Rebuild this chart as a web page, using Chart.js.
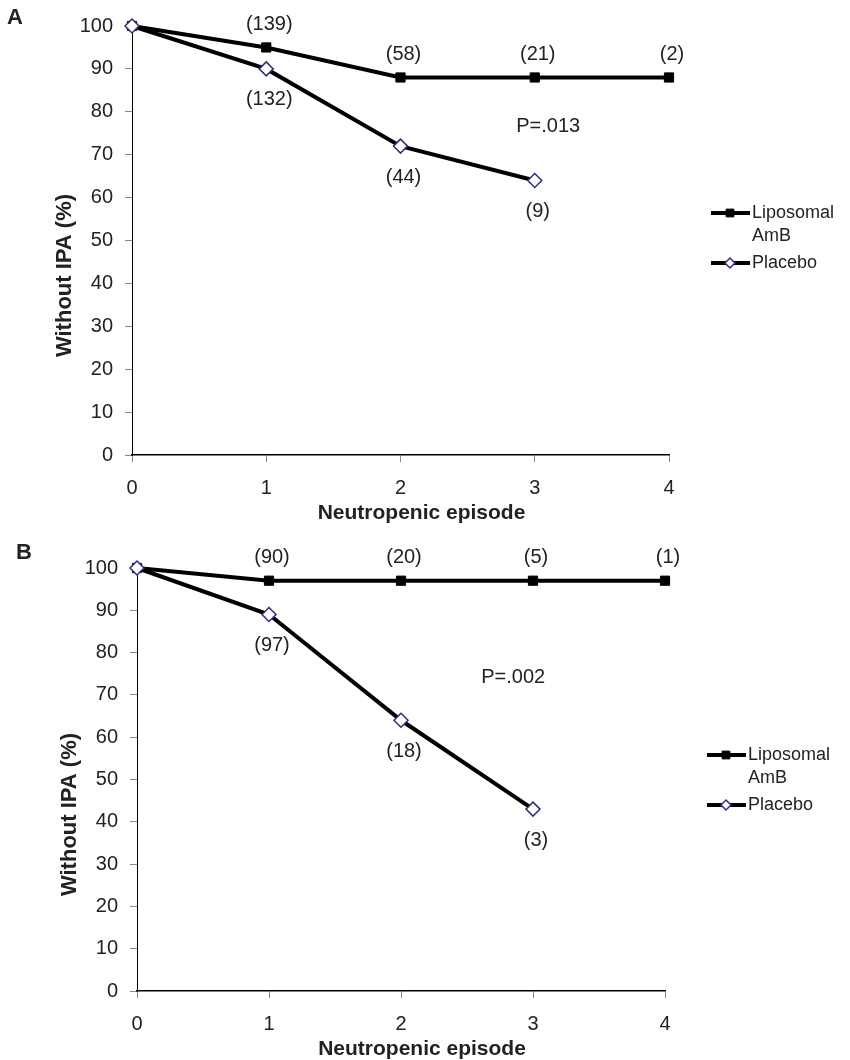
<!DOCTYPE html>
<html>
<head>
<meta charset="utf-8">
<title>Without IPA by neutropenic episode</title>
<script src="https://cdn.jsdelivr.net/npm/chart.js@4.4.1/dist/chart.umd.min.js"></script>
<style>
  body { margin: 0; background: #fff; }
  canvas { position: absolute; left: 0; }
</style>
</head>
<body>
<canvas id="chartA" width="850" height="530" style="top:0"></canvas>
<canvas id="chartB" width="850" height="530" style="top:530px"></canvas>
<script>
// x values (neutropenic episode)
const episodes = [0, 1, 2, 3, 4];

// panel A
const lipoA = [100, 95, 88, 88, 88];
const placeboA = [100, 90, 72, 64];
const lipoCountsA = [null, 139, 58, 21, 2];
const placeboCountsA = [null, 132, 44, 9];
const pTextA = 'P=.013';

// panel B
const lipoB = [100, 97, 97, 97, 97];
const placeboB = [100, 89, 64, 43];
const lipoCountsB = [null, 90, 20, 5, 1];
const placeboCountsB = [null, 97, 18, 3];
const pTextB = 'P=.002';

const FONT = '"Liberation Sans", Arial, sans-serif';
const TXT = '#222';

function points(ys) {
    return ys.map((y, i) => ({ x: episodes[i], y: y }));
}

// labels, p value, axis titles, panel letter and legend
const annotate = {
    id: 'annotate',
    afterDatasetsDraw(chart, args, opts) {
        const ctx = chart.ctx;
        const { left, right, top, bottom } = chart.chartArea;
        const xs = chart.scales.x, ys = chart.scales.y;
        ctx.save();
        ctx.fillStyle = TXT;
        ctx.textAlign = 'center';
        ctx.textBaseline = 'middle';

        // n at risk labels
        ctx.font = '20px ' + FONT;
        chart.data.datasets.forEach((ds, di) => {
            const meta = chart.getDatasetMeta(di);
            ds.counts.forEach((n, i) => {
                if (n == null) return;
                const pt = meta.data[i];
                const dy = ds.countSide === 'above' ? -23 : 31;
                ctx.fillText('(' + n + ')', pt.x + 3, pt.y + dy);
            });
        });

        // p value
        ctx.fillText(opts.pText, xs.getPixelForValue(opts.pAt[0]), ys.getPixelForValue(opts.pAt[1]));

        // axis titles
        ctx.font = 'bold 21px ' + FONT;
        ctx.fillText('Neutropenic episode', (left + right) / 2 + 21, bottom + 58);
        ctx.save();
        ctx.translate(left - 67, (top + bottom) / 2 + 35);
        ctx.rotate(-Math.PI / 2);
        ctx.font = 'bold 22px ' + FONT;
        ctx.fillText('Without IPA (%)', 0, 0);
        ctx.restore();

        // panel letter
        ctx.font = 'bold 22px ' + FONT;
        ctx.fillText(opts.letter, opts.letterAt[0], opts.letterAt[1]);

        // legend
        const lx = right + 42, ly = top + 187;
        const rows = [
            { ds: chart.data.datasets[1], lines: ['Liposomal', 'AmB'], y: ly },
            { ds: chart.data.datasets[0], lines: ['Placebo'], y: ly + 50 }
        ];
        ctx.font = '18px ' + FONT;
        ctx.textAlign = 'left';
        rows.forEach(r => {
            ctx.strokeStyle = r.ds.borderColor;
            ctx.lineWidth = 4;
            ctx.beginPath();
            ctx.moveTo(lx, r.y);
            ctx.lineTo(lx + 39, r.y);
            ctx.stroke();
            ctx.fillStyle = r.ds.pointBackgroundColor;
            ctx.strokeStyle = r.ds.pointBorderColor;
            ctx.lineWidth = r.ds.pointBorderWidth;
            Chart.helpers.drawPoint(ctx, {
                pointStyle: r.ds.pointStyle,
                radius: r.ds.pointStyle === 'rect' ? 5.5 : 5,
                rotation: 0,
                borderWidth: r.ds.pointBorderWidth
            }, lx + 19, r.y);
            ctx.fillStyle = TXT;
            r.lines.forEach((t, k) => ctx.fillText(t, lx + 41, r.y + k * 23));
        });
        ctx.restore();
    }
};

function makeChart(id, lipo, placebo, lipoCounts, placeboCounts, area, extra) {
    return new Chart(document.getElementById(id), {
        type: 'line',
        data: {
            datasets: [{
                label: 'Placebo',
                data: points(placebo),
                counts: placeboCounts,
                countSide: 'below',
                borderColor: '#000',
                borderWidth: 4,
                pointStyle: 'rectRot',
                pointRadius: 7,
                pointBackgroundColor: '#fff',
                pointBorderColor: '#2e2e7e',
                pointBorderWidth: 1.5,
                tension: 0,
                clip: false,
                order: 0
            }, {
                label: 'Liposomal AmB',
                data: points(lipo),
                counts: lipoCounts,
                countSide: 'above',
                borderColor: '#000',
                borderWidth: 4,
                pointStyle: 'rect',
                pointRadius: 6.5,
                pointBackgroundColor: '#000',
                pointBorderColor: '#000',
                pointBorderWidth: 1,
                tension: 0,
                clip: false,
                order: 1
            }]
        },
        options: {
            responsive: false,
            animation: false,
            layout: {
                padding: { top: area.top, right: 850 - area.right, left: 0, bottom: 0 }
            },
            scales: {
                x: {
                    type: 'linear',
                    min: 0, max: 4,
                    afterFit: s => { s.height = 530 - area.bottom; },
                    ticks: { stepSize: 1, padding: 14, color: TXT, font: { size: 20, family: FONT } },
                    grid: { drawOnChartArea: false, tickLength: 7, tickColor: '#888' },
                    border: { color: '#000', width: 1.5 }
                },
                y: {
                    min: 0, max: 100,
                    afterFit: s => { s.width = area.left; },
                    ticks: { stepSize: 10, padding: 12, color: TXT, font: { size: 20, family: FONT } },
                    grid: { drawOnChartArea: false, tickLength: 7, tickColor: '#888' },
                    border: { color: '#000', width: 1 }
                }
            },
            plugins: {
                legend: { display: false },
                tooltip: { enabled: false },
                annotate: extra
            }
        },
        plugins: [annotate]
    });
}

makeChart('chartA', lipoA, placeboA, lipoCountsA, placeboCountsA,
    { top: 26, bottom: 455, left: 132, right: 669 },
    { pText: pTextA, pAt: [3.1, 76.5], letter: 'A', letterAt: [15, 18] });

makeChart('chartB', lipoB, placeboB, lipoCountsB, placeboCountsB,
    { top: 38, bottom: 461, left: 137, right: 665 },
    { pText: pTextB, pAt: [2.85, 74], letter: 'B', letterAt: [24, 23] });
</script>
</body>
</html>
